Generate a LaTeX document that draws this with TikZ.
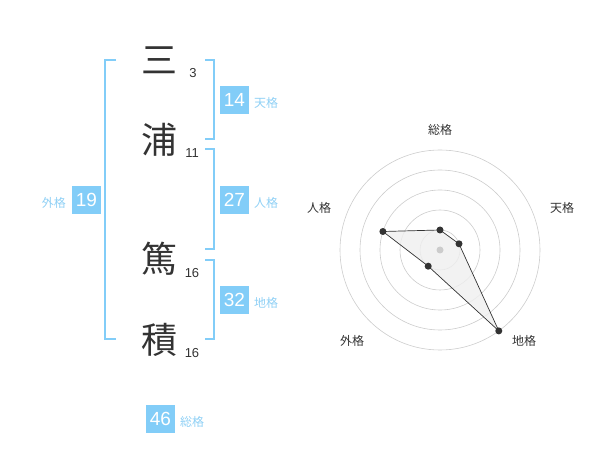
\documentclass[tikz,border=0pt]{standalone}
\usepackage{fontspec}
\setmainfont{Liberation Sans}
\newfontfamily\jp{Noto Sans CJK JP}
\definecolor{bl}{HTML}{82CDF8}
\definecolor{lbl}{HTML}{8FD0F5}
\definecolor{ink}{HTML}{333333}
\definecolor{gridc}{HTML}{CCCCCC}
\definecolor{areac}{HTML}{EFEFEF}
\begin{document}
\begin{tikzpicture}[x=1pt,y=-1pt,
  kanji/.style={font=\jp\fontsize{36}{36}\selectfont, text=ink, inner sep=0pt},
  strokes/.style={font=\fontsize{13}{13}\selectfont, text=ink, inner sep=0pt},
  numbox/.style={fill=bl, text=white, minimum width=29pt, minimum height=28pt, inner sep=0pt, font=\fontsize{19}{19}\selectfont},
  kaku/.style={text=lbl, font=\jp\fontsize{12}{12}\selectfont, inner sep=0pt},
  brk/.style={draw=bl, line width=1.6pt},
  ring/.style={draw=gridc, line width=0.6pt},
  axlab/.style={text=ink, font=\jp\fontsize{12}{12}\selectfont, inner sep=0pt},
  dot/.style={circle, fill=ink, inner sep=0pt, minimum size=7pt},
  area/.style={draw=ink, line width=0.7pt, fill=areac, fill opacity=0.8}]
\useasboundingbox (0,0) rectangle (600,470);
% characters
\node[kanji] (c1) at (159,60) {三};
\node[kanji] (c2) at (159,140) {浦};
\node[kanji] (c3) at (159,259) {篤};
\node[kanji] (c4) at (159,340) {積};
\node[strokes] (s1) at (193,73) {3};
\node[strokes] (s2) at (192,153) {11};
\node[strokes] (s3) at (192,273) {16};
\node[strokes] (s4) at (192,353) {16};
% brackets
\coordinate (la) at (116,60); \coordinate (lb) at (116,339);
\draw[brk] (la) -- (105,60) -- (105,339) -- (lb);
\coordinate (r1a) at (205,60); \coordinate (r1b) at (205,139);
\draw[brk] (r1a) -- (214,60) -- (214,139) -- (r1b);
\coordinate (r2a) at (205,149); \coordinate (r2b) at (205,249);
\draw[brk] (r2a) -- (214,149) -- (214,249) -- (r2b);
\coordinate (r3a) at (205,260); \coordinate (r3b) at (205,339);
\draw[brk] (r3a) -- (214,260) -- (214,339) -- (r3b);
% boxes
\node[numbox] (b14) at (234.5,100) {14};
\node[kaku, anchor=west] (k14) at (254,103) {天格};
\node[numbox] (b27) at (234.5,200) {27};
\node[kaku, anchor=west] (k27) at (254,203) {人格};
\node[numbox] (b32) at (234.5,300) {32};
\node[kaku, anchor=west] (k32) at (254,303) {地格};
\node[numbox] (b19) at (86.5,200) {19};
\node[kaku, anchor=east] (k19) at (66,203) {外格};
\node[numbox] (b46) at (160.5,419) {46};
\node[kaku, anchor=west] (k46) at (180,422) {総格};
% radar
\coordinate (O) at (440,250);
\foreach \r in {20,40,60,80,100} \draw[ring] (O) circle (\r);
\coordinate (pS) at (440,230);
\coordinate (pT) at (459.0,243.8);
\coordinate (pC) at (498.8,330.9);
\coordinate (pG) at (428.2,266.2);
\coordinate (pJ) at (382.9,231.5);
\draw[area] (pS) -- (pT) -- (pC) -- (pG) -- (pJ) -- cycle;
\node[circle, fill=gridc, inner sep=0pt, minimum size=7pt] (cen) at (O) {};
\foreach \p in {pS,pT,pC,pG,pJ} \node[dot] (d\p) at (\p) {};
\node[axlab] (aS) at (440,130) {総格};
\node[axlab] (aT) at (562,208) {天格};
\node[axlab] (aC) at (524,341) {地格};
\node[axlab] (aG) at (352,341) {外格};
\node[axlab] (aJ) at (319,208) {人格};
\end{tikzpicture}
\end{document}
